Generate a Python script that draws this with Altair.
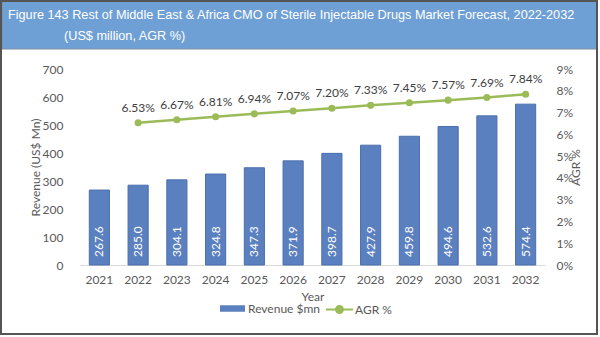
import altair as alt
import pandas as pd

years = [str(y) for y in range(2021, 2033)]
revenue = [267.6, 285.0, 304.1, 324.8, 347.3, 371.9, 398.7, 427.9, 459.8, 494.6, 532.6, 574.4]
agr_years = years[1:]
agr = [6.53, 6.67, 6.81, 6.94, 7.07, 7.20, 7.33, 7.45, 7.57, 7.69, 7.84]
rev_ticks = [0, 100, 200, 300, 400, 500, 600, 700]
agr_ticks = [0, 0.01, 0.02, 0.03, 0.04, 0.05, 0.06, 0.07, 0.08, 0.09]

title1 = "Figure 143 Rest of Middle East & Africa CMO of Sterile Injectable Drugs Market Forecast, 2022-2032"
title2 = "(US$ million, AGR %)"

BLUE = "#5b80bf"
GREEN = "#9bbb59"
TXT = "#595959"
FONT = "Lato"
TFONT = "Liberation Sans"

df_bar = pd.DataFrame({
    "Year": years,
    "Revenue": revenue,
    "zero": [0] * len(years),
    "label": [f"{v:.1f}" for v in revenue],
    "series": ["Revenue $mn"] * len(years),
})
df_line = pd.DataFrame({
    "Year": agr_years,
    "AGR": [v / 100 for v in agr],
    "label": [f"{v:.2f}%" for v in agr],
    "series": ["AGR %"] * len(agr_years),
})
one = pd.DataFrame({"a": [0]})

W, H = 465, 196
xscale = alt.Scale(domain=years, paddingInner=0.48, paddingOuter=0.24)
xaxis = alt.Axis(title="Year", labelAngle=0, ticks=False, domainColor="#d9d9d9",
                 labelPadding=9, titlePadding=6, labelFontSize=12, titleFontSize=12,
                 labelColor=TXT, titleColor=TXT, labelFont=FONT, titleFont=FONT,
                 titleFontWeight="normal")
xenc = alt.X("Year:N", scale=xscale, axis=xaxis)

lscale = alt.Scale(domain=[0, 700])
laxis = alt.Axis(title="Revenue (US$ Mn)", values=rev_ticks, grid=False, tickCount=8,
                 ticks=False, domain=False, labelPadding=17, titlePadding=0,
                 labelOverlap=False,
                 labelFontSize=12, titleFontSize=12, labelColor=TXT, titleColor=TXT,
                 labelFont=FONT, titleFont=FONT, titleFontWeight="normal")

bars = alt.Chart(df_bar).mark_bar(stroke="#4a6fae", strokeWidth=1).encode(
    x=xenc, y=alt.Y("Revenue:Q", scale=lscale, axis=laxis),
    color=alt.Color("series:N", scale=alt.Scale(range=[BLUE]),
                    legend=alt.Legend(title=None, orient="none", legendX=140, legendY=227, padding=0,
                                      symbolType="M-1,-0.26H1V0.26H-1Z", symbolSize=625,
                                      symbolStrokeWidth=0, labelOffset=3, labelFontSize=12,
                                      labelColor=TXT, labelFont=FONT)),
)
bar_text = alt.Chart(df_bar).mark_text(angle=270, align="left", baseline="middle", dx=8,
                                      color="white", fontSize=12, font=FONT).encode(
    x=xenc, y=alt.Y("zero:Q", scale=lscale, axis=laxis), text="label:N")

left = alt.layer(bars, bar_text)

rscale = alt.Scale(domain=[0, 0.09])
raxis = alt.Axis(title="AGR %", orient="right", format=".0%", tickCount=10,
                 values=agr_ticks, grid=False, ticks=False,
                 domain=False, labelPadding=11, titlePadding=10, titleAngle=270,
                 labelOverlap=False,
                 labelFontSize=12, titleFontSize=12, labelColor=TXT, titleColor=TXT,
                 labelFont=FONT, titleFont=FONT, titleFontWeight="normal")
yright = alt.Y("AGR:Q", scale=rscale, axis=raxis)

line = alt.Chart(df_line).mark_line(strokeWidth=2.5).encode(
    x=xenc, y=yright,
    stroke=alt.Stroke("series:N", scale=alt.Scale(range=[GREEN]),
                      legend=alt.Legend(title=None, orient="none", legendX=245, legendY=226, padding=0,
                                        symbolType="M-1,0H1M-0.26,0A0.26,0.26 0 1,1 0.26,0A0.26,0.26 0 1,1 -0.26,0Z",
                                        symbolSize=729, labelOffset=1, labelFontSize=12,
                                        labelColor=TXT, labelFont=FONT,
                                        symbolFillColor=GREEN, symbolStrokeColor=GREEN,
                                        symbolStrokeWidth=2)),
)
pts = alt.Chart(df_line).mark_point(filled=True, size=50, color=GREEN, opacity=1).encode(
    x=xenc, y=yright)
ltext = alt.Chart(df_line).mark_text(dy=-15, color="#404040", fontSize=12, font=FONT).encode(
    x=xenc, y=yright, text="label:N")

right = alt.layer(line, pts, ltext)

band = alt.Chart(one).mark_rect(fill="#6fa0d5", stroke="#7f8ea0", strokeWidth=1).encode(
    x=alt.value(-78), x2=alt.value(517), y=alt.value(-69), y2=alt.value(-20))
frame = alt.Chart(one).mark_rect(filled=False, stroke="#555555", strokeWidth=2).encode(
    x=alt.value(-79), x2=alt.value(517), y=alt.value(-68), y2=alt.value(265))
t1 = alt.Chart(one).mark_text(align="left", baseline="middle", fontSize=12.7, font=TFONT,
                              color="white").encode(
    x=alt.value(-72), y=alt.value(-54), text=alt.value(title1))
t2 = alt.Chart(one).mark_text(align="left", baseline="middle", fontSize=12.7, font=TFONT,
                              color="white").encode(
    x=alt.value(-16), y=alt.value(-33), text=alt.value(title2))

chart = alt.layer(band, frame, t1, t2, left, right).resolve_scale(
    y="independent", color="independent", stroke="independent"
).properties(
    width=W, height=H,
    autosize=alt.AutoSizeParams(type="none"),
    padding={"left": 80, "top": 69, "right": 55, "bottom": 72},
    background="white",
).configure_view(stroke=None)

chart.save("out.html", embed_options={"renderer": "svg", "actions": False})
